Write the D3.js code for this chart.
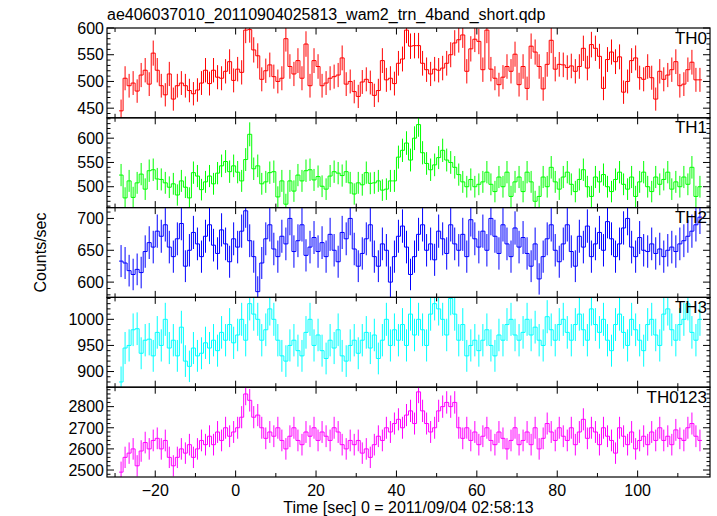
<!DOCTYPE html>
<html><head><meta charset="utf-8">
<script src="https://cdn.jsdelivr.net/npm/d3@7"></script>
<style>
body{margin:0;background:#fff}
text{font-family:"Liberation Sans",Arial,Helvetica,sans-serif;fill:#000}
</style></head>
<body><svg id="c" width="717" height="516"></svg>
<script>
// ---- data (1-s bins, first bin starts at t = -29 s) ----
const binStart = -29;
const th0 = [445,506,492,497,482,512,521,495,553,521,
 492,475,514,467,492,497,492,483,477,484,
 497,521,496,521,508,506,519,537,502,523,
 517,596,597,559,548,504,520,531,509,500,
 506,580,528,514,539,506,570,492,539,528,
 492,497,506,509,512,544,495,500,481,472,
 499,504,498,474,483,539,503,506,496,534,
 542,596,566,567,567,534,522,514,523,521,
 525,534,550,572,578,587,519,561,579,575,
 522,596,523,506,494,508,528,519,551,494,
 528,487,566,555,528,486,532,577,523,532,
 531,526,529,519,528,562,525,569,562,547,
 487,541,555,537,546,480,500,539,544,507,
 504,528,507,467,519,504,512,522,537,492,
 495,522,536,503,503];
const th1 = [524,477,512,478,508,526,495,533,535,516,
 515,508,499,506,483,512,499,477,529,522,
 494,510,522,506,528,543,552,531,543,530,
 512,556,608,537,543,506,510,529,531,479,
 512,464,512,491,524,512,533,535,514,521,
 501,495,522,531,528,523,531,508,485,508,
 504,529,507,508,512,493,495,512,512,561,
 575,590,555,600,628,570,548,535,545,560,
 575,555,550,540,525,510,500,515,500,505,
 510,530,505,490,520,500,530,480,510,520,
 490,530,510,470,480,520,500,540,510,495,
 520,530,505,490,515,535,500,480,520,510,
 525,500,490,515,530,505,495,520,480,510,
 530,500,490,520,505,515,530,495,510,500,
 520,505,540,480,500];
const th2 = [633,630,618,612,620,615,648,662,655,680,
 672,690,655,640,668,692,625,650,678,660,
 640,672,690,658,645,682,660,632,668,655,
 680,712,665,640,585,630,668,690,652,640,
 672,660,700,648,665,690,642,655,670,648,
 662,640,675,650,632,678,668,700,652,625,
 645,668,690,640,625,660,650,600,640,672,
 688,655,612,640,675,690,650,660,635,680,
 668,645,690,660,650,675,640,698,668,655,
 680,650,700,672,645,690,660,640,685,655,
 670,645,625,660,605,640,668,690,650,632,
 660,690,648,625,672,655,688,640,660,678,
 650,695,668,640,660,685,700,655,640,670,
 650,648,660,645,652,640,650,655,648,660,
 665,672,680,690,702];
const th3 = [880,945,950,980,982,935,960,962,930,975,
 950,1000,945,960,930,985,920,910,945,930,
 935,955,945,960,940,975,960,990,955,970,
 1000,960,1030,1010,1000,960,980,1020,1000,960,
 930,920,950,960,940,930,975,1000,950,970,
 940,925,960,945,980,930,920,950,960,935,
 960,975,945,970,925,960,1000,950,980,960,
 990,950,1010,970,1000,980,950,1010,1030,1020,
 1000,970,1040,1010,960,990,930,950,960,940,
 960,980,950,930,970,960,990,1000,970,960,
 975,1000,970,985,960,950,1005,980,960,990,
 1000,975,960,990,1010,980,960,1020,990,975,
 1000,960,940,990,1010,975,950,1000,980,960,
 940,990,1000,970,950,1010,1020,980,960,990,
 1000,1030,975,960,1000];
const th0123 = [2490,2560,2580,2600,2520,2590,2630,2600,2640,2650,
 2600,2640,2560,2520,2560,2600,2580,2620,2560,2600,
 2640,2620,2660,2620,2680,2640,2700,2660,2680,2700,
 2750,2860,2830,2750,2760,2700,2650,2680,2660,2700,
 2640,2600,2660,2700,2640,2620,2680,2660,2700,2640,
 2680,2660,2640,2700,2680,2620,2600,2640,2620,2640,
 2580,2600,2560,2620,2660,2640,2700,2680,2720,2740,
 2700,2760,2780,2720,2870,2780,2720,2680,2700,2780,
 2800,2820,2800,2820,2700,2650,2700,2640,2680,2620,
 2660,2700,2640,2620,2680,2650,2600,2640,2700,2620,
 2640,2680,2620,2700,2600,2650,2720,2680,2640,2700,
 2660,2640,2700,2620,2680,2740,2650,2700,2680,2620,
 2700,2660,2640,2580,2700,2660,2620,2680,2600,2640,
 2660,2620,2680,2640,2700,2640,2660,2620,2690,2650,
 2640,2700,2720,2660,2640];

const names = ["TH0","TH1","TH2","TH3","TH0123"];
const series = [th0, th1, th2, th3, th0123];
const colors = ["#ff0000","#00ff00","#0000ff","#00ffff","#ff00ff"];
const yDomains = [[432,600],[457,642],[576,717],[870,1042],[2467,2892]];
const yTicks = [[450,500,550,600],[500,550,600],[600,650,700],[900,950,1000],[2500,2600,2700,2800]];
const yMinorStep = [10,10,10,10,20];
const xDomain = [-32,118];
const xTickLabels = [-20,0,20,40,60,80,100];
const title = "ae406037010_20110904025813_wam2_trn_4band_short.qdp";
const xTitle = "Time [sec] 0 = 2011/09/04 02:58:13";
const yTitle = "Counts/sec";

// ---- layout ----
const L = 107, R = 710, T = 28, B = 477;
const ph = (B - T) / names.length;
const svg = d3.select("#c");
const x = d3.scaleLinear().domain(xDomain).range([L, R]);

svg.append("text").attr("x", L).attr("y", 20).attr("font-size", 16).text(title);

names.forEach((name, p) => {
  const top = T + p * ph, bot = top + ph;
  const y = d3.scaleLinear().domain(yDomains[p]).range([bot, top]);
  const g = svg.append("g");
  const clipId = "clip" + p;
  svg.append("clipPath").attr("id", clipId).append("rect")
    .attr("x", L).attr("y", top).attr("width", R - L).attr("height", ph);
  const vals = series[p];
  const pts = vals.map((v, i) => [binStart + i, v]);
  pts.push([binStart + vals.length, vals[vals.length - 1]]);
  const line = d3.line().x(d => x(d[0])).y(d => y(d[1])).curve(d3.curveStepAfter);
  const dg = g.append("g").attr("clip-path", `url(#${clipId})`);
  dg.selectAll("line.err").data(vals).join("line")
    .attr("x1", (v, i) => x(binStart + i + 0.5)).attr("x2", (v, i) => x(binStart + i + 0.5))
    .attr("y1", v => y(v - Math.sqrt(v))).attr("y2", v => y(v + Math.sqrt(v)))
    .attr("stroke", colors[p]).attr("stroke-width", 1);
  dg.append("path").attr("d", line(pts)).attr("fill", "none")
    .attr("stroke", colors[p]).attr("stroke-width", 1);

  const [d0, d1] = yDomains[p];
  const minors = d3.range(Math.ceil(d0 / yMinorStep[p]) * yMinorStep[p], d1 + 0.001, yMinorStep[p]);
  minors.forEach(v => {
    const major = yTicks[p].includes(v);
    const len = major ? 7 : 3.5;
    g.append("line").attr("x1", L).attr("x2", L + len).attr("y1", y(v)).attr("y2", y(v)).attr("stroke", "#000");
    g.append("line").attr("x1", R).attr("x2", R - len).attr("y1", y(v)).attr("y2", y(v)).attr("stroke", "#000");
  });
  yTicks[p].forEach(v => {
    g.append("text").attr("x", L - 3).attr("y", y(v)).attr("dy", "0.36em")
      .attr("text-anchor", "end").attr("font-size", 16).text(v);
  });
  d3.range(-30, 118, 10).forEach(t => {
    const len = (t % 20 === 0) ? 6.5 : 4;
    g.append("line").attr("x1", x(t)).attr("x2", x(t)).attr("y1", bot).attr("y2", bot - len).attr("stroke", "#000");
    g.append("line").attr("x1", x(t)).attr("x2", x(t)).attr("y1", top).attr("y2", top + len).attr("stroke", "#000");
  });
  g.append("rect").attr("x", L).attr("y", top).attr("width", R - L).attr("height", ph)
    .attr("fill", "none").attr("stroke", "#000").attr("stroke-width", 1.2);
  g.append("text").attr("x", 707).attr("y", top + 15.5).attr("text-anchor", "end")
    .attr("font-size", 17).text(name);
});

xTickLabels.forEach(t => {
  svg.append("text").attr("x", x(t)).attr("y", 496).attr("text-anchor", "middle")
    .attr("font-size", 16).text(t < 0 ? "\u2212" + Math.abs(t) : t);
});
svg.append("text").attr("x", (L + R) / 2).attr("y", 513).attr("text-anchor", "middle")
  .attr("font-size", 16).text(xTitle);
svg.append("text").attr("transform", `translate(46,${(T + B) / 2}) rotate(-90)`)
  .attr("text-anchor", "middle").attr("font-size", 16).text(yTitle);
</script></body></html>
